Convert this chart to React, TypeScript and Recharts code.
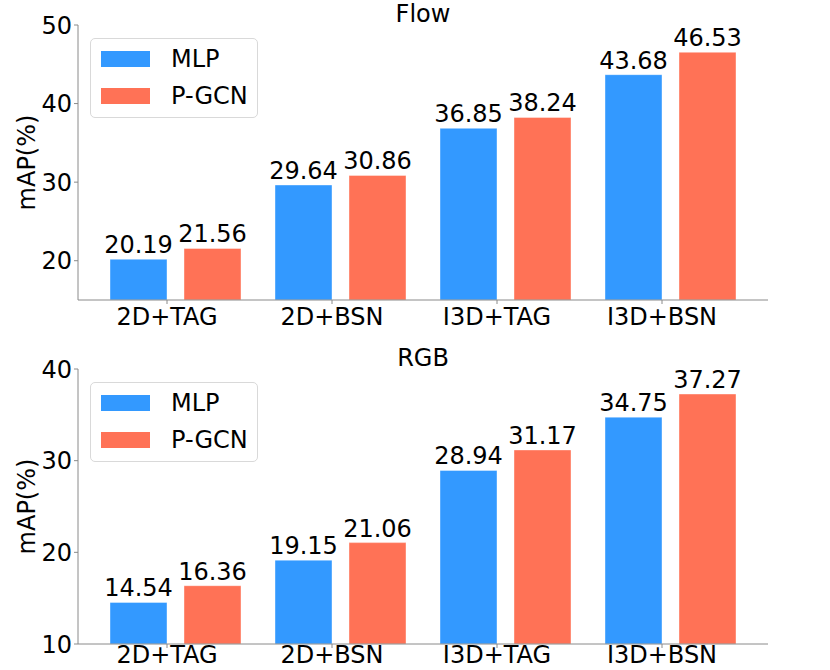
import { BarChart, Bar, XAxis, YAxis, Legend, LabelList } from "recharts";

const categories = ["2D+TAG", "2D+BSN", "I3D+TAG", "I3D+BSN"];
const flowMlp = [20.19, 29.64, 36.85, 43.68];
const flowPgcn = [21.56, 30.86, 38.24, 46.53];
const rgbMlp = [14.54, 19.15, 28.94, 34.75];
const rgbPgcn = [16.36, 21.06, 31.17, 37.27];
const flowTicks = [20, 30, 40, 50];
const rgbTicks = [10, 20, 30, 40];

const FONT = "'DejaVu Sans', sans-serif";
const BLUE = "#3399ff";
const RED = "#ff7256";
const AXIS = "#8a8a8a";

const flowData = categories.map((name, i) => ({ name, mlp: flowMlp[i], pgcn: flowPgcn[i] }));
const rgbData = categories.map((name, i) => ({ name, mlp: rgbMlp[i], pgcn: rgbPgcn[i] }));

// matplotlib put the ticks a bit left of the group centre
function CatTick({ x, y, payload, labelDy }: any) {
  const tx = x - 8.5;
  return (
    <g>
      <line x1={tx} y1={y} x2={tx} y2={y + 4} stroke={AXIS} />
      <text x={tx} y={y + labelDy} textAnchor="middle" fontSize={24} fontFamily={FONT} fill="#000">
        {payload.value}
      </text>
    </g>
  );
}

function yLabel({ viewBox }: any) {
  const cx = viewBox.x + 27;
  const cy = viewBox.y + viewBox.height / 2;
  return (
    <text
      x={cx}
      y={cy}
      textAnchor="middle"
      dominantBaseline="central"
      transform={`rotate(-90, ${cx}, ${cy})`}
      fontSize={24}
      fontFamily={FONT}
      fill="#000"
    >
      mAP(%)
    </text>
  );
}

function LegendBox({ payload }: any) {
  return (
    <div
      style={{
        width: 168,
        height: 80,
        boxSizing: "border-box",
        border: "1px solid #d9d9d9",
        borderRadius: 5,
        background: "rgba(255,255,255,0.8)",
        position: "relative",
        fontFamily: FONT,
        fontSize: 24,
      }}
    >
      {(payload || []).map((p: any, i: number) => (
        <div key={p.value} style={{ position: "absolute", left: 10, top: 12 + i * 37, height: 16 }}>
          <div style={{ position: "absolute", left: 0, top: 0, width: 49, height: 16, background: p.color }} />
          <div style={{ position: "absolute", left: 70, top: -6, lineHeight: "28px", whiteSpace: "nowrap", color: "#000" }}>
            {p.value}
          </div>
        </div>
      ))}
    </div>
  );
}

function Panel({ data, domain, ticks, top, xHeight, labelDy }: any) {
  return (
    <BarChart
      width={830}
      height={335}
      data={data}
      margin={{ top, right: 62, bottom: 0, left: 0 }}
      barSize={57}
      barGap={17}
    >
      <XAxis
        dataKey="name"
        padding={{ left: 15, right: 15 }}
        height={xHeight}
        axisLine={{ stroke: AXIS }}
        tickLine={false}
        tickSize={0}
        tickMargin={0}
        tick={<CatTick labelDy={labelDy} />}
        interval={0}
      />
      <YAxis
        type="number"
        domain={domain}
        ticks={ticks}
        width={78}
        allowDataOverflow
        axisLine={{ stroke: AXIS }}
        tickLine={{ stroke: AXIS }}
        tickSize={4}
        tickMargin={2}
        tick={{ fontSize: 24, fontFamily: FONT, fill: "#000" }}
        label={yLabel}
      />
      <Legend
        layout="vertical"
        align="center"
        verticalAlign="middle"
        content={<LegendBox />}
        wrapperStyle={{ position: "absolute", left: 90, top: top + 13, width: 168, height: 80 }}
      />
      <Bar dataKey="mlp" name="MLP" fill={BLUE} stroke="rgba(255,255,255,0.4)" isAnimationActive={false}>
        <LabelList
          dataKey="mlp"
          position="top"
          offset={6}
          formatter={(v: any) => Number(v).toFixed(2)}
          style={{ fontSize: 24, fontFamily: FONT, fill: "#000" }}
        />
      </Bar>
      <Bar dataKey="pgcn" name="P-GCN" fill={RED} stroke="rgba(255,255,255,0.4)" isAnimationActive={false}>
        <LabelList
          dataKey="pgcn"
          position="top"
          offset={6}
          formatter={(v: any) => Number(v).toFixed(2)}
          style={{ fontSize: 24, fontFamily: FONT, fill: "#000" }}
        />
      </Bar>
    </BarChart>
  );
}

const titleStyle = {
  position: "absolute" as const,
  left: 0,
  width: 846,
  textAlign: "center" as const,
  fontFamily: FONT,
  fontSize: 24,
  lineHeight: "24px",
};

export default function App() {
  return (
    <div style={{ position: "absolute", left: 0, top: 0, width: 830, height: 670, background: "#fff", overflow: "hidden" }}>
      <div style={{ position: "absolute", left: 0, top: 0 }}>
        <Panel data={flowData} domain={[15, 50]} ticks={flowTicks} top={25} xHeight={35} labelDy={25} />
      </div>
      <div style={{ position: "absolute", left: 0, top: 335 }}>
        <Panel data={rgbData} domain={[10, 40]} ticks={rgbTicks} top={34} xHeight={26} labelDy={19} />
      </div>
      <div style={{ ...titleStyle, top: 2 }}>Flow</div>
      <div style={{ ...titleStyle, top: 346 }}>RGB</div>
    </div>
  );
}
